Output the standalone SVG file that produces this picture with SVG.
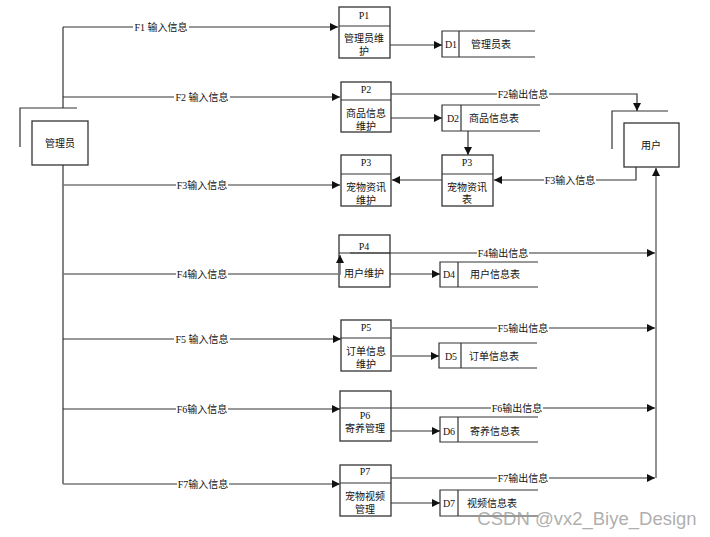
<svg xmlns="http://www.w3.org/2000/svg" width="710" height="537" viewBox="0 0 710 537">
<defs>
<marker id="ah" viewBox="0 0 10 10" refX="10" refY="5" markerWidth="8" markerHeight="8" markerUnits="userSpaceOnUse" orient="auto">
<path d="M0,0 L10,5 L0,10 z" fill="#111"/>
</marker>
<style>
.ln{fill:none;stroke:#333;stroke-width:1.2}
.ln2{fill:none;stroke:#777;stroke-width:1.6}
.arr{marker-end:url(#ah)}
.box{fill:#fff;stroke:#333;stroke-width:1.3}
.t{font-family:"Liberation Serif","Noto Sans CJK SC",serif;font-size:10px;fill:#111;text-anchor:middle;dominant-baseline:central}
.bg{fill:#fff}
</style>
</defs>
<rect width="710" height="537" fill="#fff"/>

<g id="admin">
<path class="ln" d="M20,147 V108 H77"/>
<rect class="box" x="32" y="121" width="56" height="44"/>
<text class="t" x="60" y="143">管理员</text>
</g>

<g id="user">
<path class="ln" d="M612,149 V111 H668"/>
<rect class="box" x="624" y="123" width="55" height="44"/>
<text class="t" x="651" y="145">用户</text>
</g>

<g id="P1">
<rect class="box" x="339" y="7" width="51" height="51"/>
<path class="ln" d="M339,26 H390"/>
<text class="t" x="364" y="15">P1</text>
<text class="t" x="364" y="38">管理员维</text>
<text class="t" x="364" y="51">护</text>
</g>
<g id="D1">
<path class="ln" d="M535,31 H442 V57 H535 M459,31 V57"/>
<text class="t" x="451" y="44">D1</text>
<text class="t" x="491" y="44">管理员表</text>
</g>

<g id="P2">
<rect class="box" x="341" y="82" width="50" height="50"/>
<path class="ln" d="M341,100 H391"/>
<text class="t" x="366" y="89">P2</text>
<text class="t" x="366" y="113">商品信息</text>
<text class="t" x="366" y="126">维护</text>
</g>
<g id="D2">
<path class="ln" d="M540,105 H442 V131 H540 M461,105 V131"/>
<text class="t" x="453" y="118">D2</text>
<text class="t" x="494" y="118">商品信息表</text>
</g>

<g id="P3">
<rect class="box" x="341" y="155" width="50" height="51"/>
<path class="ln" d="M341,174 H391"/>
<text class="t" x="366" y="162">P3</text>
<text class="t" x="366" y="187">宠物资讯</text>
<text class="t" x="366" y="200">维护</text>
</g>
<g id="P3b">
<rect class="box" x="442" y="155" width="51" height="51"/>
<path class="ln" d="M442,174 H493"/>
<text class="t" x="467" y="162">P3</text>
<text class="t" x="467" y="187">宠物资讯</text>
<text class="t" x="467" y="199">表</text>
</g>

<g id="P4">
<rect class="box" x="339" y="235" width="51" height="52"/>
<path class="ln" d="M339,253 H390"/>
<text class="t" x="364" y="246">P4</text>
<text class="t" x="364" y="273">用户维护</text>
</g>
<g id="D4">
<path class="ln" d="M538,262 H440 V287 H538 M458,262 V287"/>
<text class="t" x="449" y="274">D4</text>
<text class="t" x="495" y="274">用户信息表</text>
</g>

<g id="P5">
<rect class="box" x="341" y="320" width="50" height="51"/>
<path class="ln" d="M341,338 H391"/>
<text class="t" x="366" y="327">P5</text>
<text class="t" x="366" y="351">订单信息</text>
<text class="t" x="366" y="364">维护</text>
</g>
<g id="D5">
<path class="ln" d="M537,343 H439 V368 H537 M461,343 V368"/>
<text class="t" x="451" y="356">D5</text>
<text class="t" x="494" y="356">订单信息表</text>
</g>

<g id="P6">
<rect class="box" x="340" y="391" width="51" height="50"/>
<path class="ln" d="M340,408 H380"/>
<text class="t" x="365" y="415">P6</text>
<text class="t" x="365" y="428">寄养管理</text>
</g>
<g id="D6">
<path class="ln" d="M538,417 H440 V442 H538 M458,417 V442"/>
<text class="t" x="449" y="431">D6</text>
<text class="t" x="495" y="431">寄养信息表</text>
</g>

<g id="P7">
<rect class="box" x="340" y="465" width="51" height="51"/>
<path class="ln" d="M340,483 H391"/>
<text class="t" x="365" y="471">P7</text>
<text class="t" x="365" y="496">宠物视频</text>
<text class="t" x="365" y="509">管理</text>
</g>
<g id="D7">
<path class="ln" d="M538,490 H440 V516 H538 M458,490 V516"/>
<text class="t" x="449" y="503">D7</text>
<text class="t" x="492" y="503">视频信息表</text>
</g>

<g id="connectors">
<path class="ln" d="M63,27 V108 M63,165 V484"/>
<path class="ln arr" d="M63,27 H338"/>
<path class="ln arr" d="M63,97 H340"/>
<path class="ln2 arr" d="M63,185 H340"/>
<path class="ln2 arr" d="M63,274 H340 V255"/>
<path class="ln arr" d="M63,339 H341"/>
<path class="ln arr" d="M63,409 H340"/>
<path class="ln2 arr" d="M63,484 H340"/>

<path class="ln arr" d="M391,94 H637 V111"/>
<path class="ln arr" d="M636,167 V180 H494"/>
<path class="ln arr" d="M442,180 H392"/>
<path class="ln arr" d="M468,131 V155"/>
<path class="ln arr" d="M350,253 H655"/>
<path class="ln2 arr" d="M391,328 H655"/>
<path class="ln arr" d="M380,408 H655"/>
<path class="ln arr" d="M391,478 H655"/>
<path class="ln2 arr" d="M656,478 V168"/>

<path class="ln arr" d="M390,45 H442"/>
<path class="ln arr" d="M391,118 H442"/>
<path class="ln arr" d="M390,274 H440"/>
<path class="ln arr" d="M392,356 H439"/>
<path class="ln arr" d="M391,431 H440"/>
<path class="ln arr" d="M391,503 H440"/>

<rect class="bg" x="133" y="21" width="56" height="12"/>
<text class="t" x="161" y="27">F1 输入信息</text>
<rect class="bg" x="174" y="91" width="56" height="12"/>
<text class="t" x="202" y="97">F2 输入信息</text>
<rect class="bg" x="176" y="179" width="52" height="12"/>
<text class="t" x="202" y="185">F3输入信息</text>
<rect class="bg" x="176" y="268" width="52" height="12"/>
<text class="t" x="202" y="274">F4输入信息</text>
<rect class="bg" x="174" y="333" width="56" height="12"/>
<text class="t" x="202" y="339">F5 输入信息</text>
<rect class="bg" x="176" y="403" width="52" height="12"/>
<text class="t" x="202" y="409">F6输入信息</text>
<rect class="bg" x="177" y="478" width="52" height="12"/>
<text class="t" x="203" y="484">F7输入信息</text>

<rect class="bg" x="497" y="88" width="52" height="12"/>
<text class="t" x="523" y="94">F2输出信息</text>
<rect class="bg" x="544" y="174" width="52" height="12"/>
<text class="t" x="570" y="180">F3输入信息</text>
<rect class="bg" x="477" y="247" width="52" height="12"/>
<text class="t" x="503" y="253">F4输出信息</text>
<rect class="bg" x="497" y="322" width="52" height="12"/>
<text class="t" x="523" y="328">F5输出信息</text>
<rect class="bg" x="491" y="402" width="52" height="12"/>
<text class="t" x="517" y="408">F6输出信息</text>
<rect class="bg" x="497" y="472" width="52" height="12"/>
<text class="t" x="523" y="478">F7输出信息</text>
</g>

<text x="587" y="518" style="font-family:'Liberation Sans',Arial,sans-serif;font-size:18.5px;fill:#999;fill-opacity:0.8;text-anchor:middle;dominant-baseline:central">CSDN @vx2_Biye_Design</text>
</svg>
